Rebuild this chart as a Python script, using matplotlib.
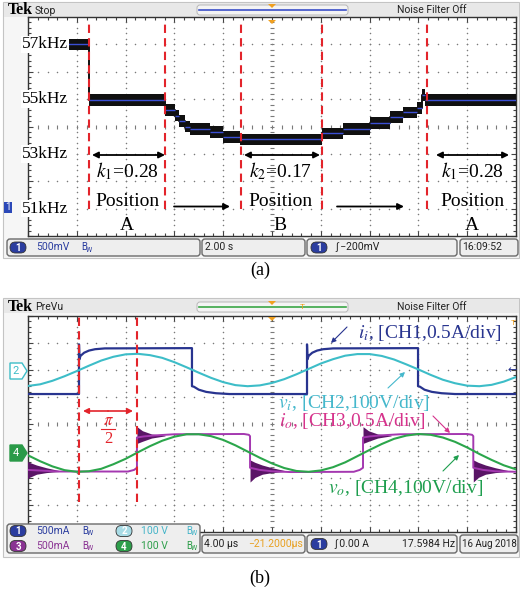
import numpy as np
import matplotlib
matplotlib.use('Agg')
import matplotlib.pyplot as plt
from matplotlib.patches import FancyBboxPatch, Polygon, Rectangle

W, H = 520, 593
plt.rcParams['mathtext.fontset'] = 'stix'
SERIF = 'Liberation Serif'
SANS = ['Roboto', 'DejaVu Sans']

# (a) switching frequency, 2 s/div, 1 kHz/div
a_time = [0.0, 2.48, 5.61, 6.02, 6.20, 6.45, 6.65, 7.45, 7.98, 8.70, 12.05,
          12.91, 14.02, 14.84, 15.37, 15.94, 16.15, 16.27, 20.0]
a_freq = [57.0, 54.97, 54.60, 54.40, 54.20, 54.00, 53.90, 53.80, 53.62, 53.53,
          53.75, 53.90, 54.13, 54.34, 54.52, 54.67, 55.15, 54.97, 54.97]
a_marks = [2.50, 5.61, 8.73, 12.05, 16.35]
a_ylabels = [(57, '57kHz'), (55, '55kHz'), (53, '53kHz'), (51, '51kHz')]

# (b) waveforms, 4 us/div, values in divisions from screen centre
b_t = list(range(41))
v_i = [1.41, 1.47, 1.60, 1.77, 1.96, 2.16, 2.35, 2.49, 2.58, 2.60, 2.55, 2.45,
       2.29, 2.10, 1.90, 1.71, 1.55, 1.44, 1.40, 1.43, 1.52, 1.66, 1.84, 2.04,
       2.24, 2.40, 2.53, 2.59, 2.59, 2.52, 2.39, 2.21, 2.02, 1.82, 1.64, 1.51,
       1.42, 1.40, 1.45, 1.57, 1.74]
v_o = [-1.16, -1.38, -1.57, -1.71, -1.77, -1.75, -1.66, -1.49, -1.29, -1.05,
       -0.82, -0.62, -0.47, -0.38, -0.38, -0.45, -0.59, -0.79, -1.02, -1.25,
       -1.46, -1.63, -1.74, -1.77, -1.72, -1.60, -1.42, -1.19, -0.96, -0.74,
       -0.55, -0.43, -0.37, -0.40, -0.50, -0.66, -0.87, -1.11, -1.33, -1.53,
       -1.68]
ii_t = [0, 4.18, 4.18, 4.22, 4.3, 4.6, 5.0, 5.5, 6.3, 13.44, 13.44, 13.6, 14.0,
        14.6, 15.4, 16.5, 22.87, 22.87, 22.91, 23.0, 23.3, 23.7, 24.2, 25.0,
        31.97, 31.97, 32.13, 32.5, 33.1, 33.9, 35.0, 40]
ii_v = [1.11, 1.11, 2.95, 2.40, 2.52, 2.64, 2.72, 2.77, 2.80, 2.81, 1.40, 1.38,
        1.27, 1.19, 1.14, 1.11, 1.11, 2.95, 2.40, 2.52, 2.64, 2.72, 2.77, 2.80,
        2.81, 1.40, 1.38, 1.27, 1.19, 1.14, 1.11, 1.11]
io_t = [0, 2.5, 8.2, 8.7, 8.93, 8.93, 9.5, 10.5, 12.0, 17.7, 18.1, 18.2, 18.2,
        19.0, 20.0, 21.5, 26.7, 27.2, 27.46, 27.46, 28.0, 29.0, 30.5, 36.0,
        36.4, 36.5, 36.5, 37.3, 38.3, 40]
io_v = [-1.70, -1.76, -1.76, -1.70, -1.62, -0.50, -0.46, -0.42, -0.38, -0.37,
        -0.40, -0.45, -1.62, -1.70, -1.75, -1.78, -1.77, -1.70, -1.62, -0.50,
        -0.46, -0.42, -0.38, -0.37, -0.40, -0.45, -1.62, -1.70, -1.75, -1.77]
io_rise = [8.93, 27.46]
io_fall = [-0.3, 18.2, 36.5]
ring_rise_dt = [0, 0.45, 1.2, 2.3]
ring_rise_hi = [-0.10, -0.25, -0.37, -0.42]
ring_rise_lo = [-0.72, -0.64, -0.52, -0.44]
ring_fall_dt = [0, 0.4, 1.0, 1.8, 2.8]
ring_fall_hi = [-1.33, -1.42, -1.52, -1.62, -1.72]
ring_fall_lo = [-2.15, -1.98, -1.86, -1.80, -1.76]
b_marks = [4.18, 8.93]

C_II, C_VI, C_IO, C_VO = '#28348f', '#3dbdc8', '#a438b0', '#2ba64b'
C_RING = '#5a1566'
RED = '#e3242b'
GRID = '#7a7a7a'


def fr(x0, y0, x1, y1):
    return [x0 / W, 1 - y1 / H, (x1 - x0) / W, (y1 - y0) / H]


def scope_grid(ax):
    x0, x1 = ax.get_xlim()
    y0, y1 = ax.get_ylim()
    dx, dy = (x1 - x0) / 10, (y1 - y0) / 8
    ax.set_xticks(np.linspace(x0, x1, 11))
    ax.set_xticks(np.linspace(x0, x1, 51), minor=True)
    ax.set_yticks(np.linspace(y0, y1, 9))
    ax.set_yticks(np.linspace(y0, y1, 41), minor=True)
    ax.tick_params(which='both', direction='in', top=True, right=True,
                   labelbottom=False, labelleft=False, color='#444', width=0.8)
    ax.tick_params(which='major', length=3.5)
    ax.tick_params(which='minor', length=2.2)
    for s in ax.spines.values():
        s.set_color('#333')
        s.set_linewidth(1.0)
    ys = y0 + np.arange(1, 40) * dy / 5
    for i in range(1, 10):
        xs = np.full_like(ys, x0 + i * dx)
        if i == 5:
            ax.plot(xs, ys, ls='none', marker='_', ms=3, mew=0.8, color=GRID, zorder=1)
        else:
            ax.plot(xs, ys, ls='none', marker='o', ms=1.1, mew=0, color=GRID, zorder=1)
    xs = x0 + np.arange(1, 50) * dx / 5
    for j in range(1, 8):
        yy = np.full_like(xs, y0 + j * dy)
        if j == 4:
            ax.plot(xs, yy, ls='none', marker='|', ms=3, mew=0.8, color=GRID, zorder=1)
        else:
            ax.plot(xs, yy, ls='none', marker='o', ms=1.1, mew=0, color=GRID, zorder=1)


fig = plt.figure(figsize=(W / 100, H / 100), dpi=100)
bg = fig.add_axes([0, 0, 1, 1], zorder=0)
ov = fig.add_axes([0, 0, 1, 1], zorder=10)
for a in (bg, ov):
    a.set_xlim(0, W)
    a.set_ylim(H, 0)
    a.axis('off')
ov.patch.set_alpha(0)

# panel backgrounds
for top, bot in ((2, 258), (298, 557)):
    bg.add_patch(Rectangle((3, top), 516, bot - top, fc='#f6f6f6', ec='#c4c4c4', lw=0.8))
    bg.add_patch(Rectangle((3.5, top + 0.5), 515, 14, fc='#e8e8e8', ec='none'))

# ---------------- (a)
ax = fig.add_axes(fr(28, 17, 516, 236), zorder=2)
ax.set_xlim(0, 20)
ax.set_ylim(50, 58)
scope_grid(ax)
f = np.array(a_freq)
ax.fill_between(a_time, f - 0.21, f + 0.21, step='post', color='#101010', lw=0, zorder=3)
ax.step(a_time, a_freq, where='post', color='#101010', lw=1.4, zorder=3)
ax.hlines(a_freq[:-1], a_time[:-1], a_time[1:], color='#3b4fd4', lw=1.0, zorder=4)
ax.vlines(a_marks, 51.0, 57.9, color=RED, lw=1.5, linestyles=(0, (4, 2.5)), zorder=5)
for v, lab in a_ylabels:
    ax.text(-0.25, v, lab, ha='left', va='center', fontsize=12.5, family=SERIF,
            clip_on=False, zorder=6,
            bbox=dict(fc='white', ec='none', pad=0.5))

# ---------------- (b)
bx = fig.add_axes(fr(28, 316, 516, 532), zorder=2)
bx.set_xlim(0, 40)
bx.set_ylim(-4, 4)
scope_grid(bx)
bx.plot(ii_t, ii_v, color=C_II, lw=1.6, zorder=3)
bx.plot(b_t, v_i, color=C_VI, lw=1.5, zorder=4)
for t0 in io_rise:
    bx.fill_between(np.array(ring_rise_dt) + t0, ring_rise_hi, ring_rise_lo,
                    color=C_RING, lw=0, zorder=5)
for t0 in io_fall:
    bx.fill_between(np.array(ring_fall_dt) + t0, ring_fall_hi, ring_fall_lo,
                    color=C_RING, lw=0, zorder=5)
bx.plot(io_t, io_v, color=C_IO, lw=1.4, zorder=6)
bx.plot(b_t, v_o, color=C_VO, lw=1.5, zorder=7)
bx.vlines(b_marks, -2.9, 3.95, color=RED, lw=1.5, linestyles=(0, (4, 2.5)), zorder=8)

# ---------------- chrome & annotations (pixel coords)
def box(x0, y0, x1, y1):
    ov.add_patch(FancyBboxPatch((x0, y0), x1 - x0, y1 - y0,
                                boxstyle='round,pad=0,rounding_size=3',
                                fc='#eeeeee', ec='#6a6a6a', lw=1.0))


def badge(xc, yc, num, fc, tc='white'):
    ov.add_patch(FancyBboxPatch((xc - 8, yc - 5.5), 16, 11,
                                boxstyle='round,pad=0,rounding_size=5.5',
                                fc=fc, ec='#333', lw=0.6))
    ov.text(xc, yc + 0.5, num, ha='center', va='center', color=tc,
            fontsize=7, family=SANS, weight='bold')


def bw(x, y, c):
    ov.text(x, y, 'B', ha='left', va='center', color=c, fontsize=7, family=SANS)
    ov.text(x + 4.5, y + 2.5, 'W', ha='left', va='center', color=c, fontsize=5, family=SANS)


def stxt(x, y, s, c='#222', size=7.5, ha='left'):
    ov.text(x, y, s, ha=ha, va='center', color=c, fontsize=size, family=SANS)


def header(y, name, lc):
    ov.text(8, y, 'Tek', ha='left', va='center', fontsize=11.5, family=SERIF, weight='bold')
    stxt(35, y + 0.5, name, size=7.5)
    ov.add_patch(FancyBboxPatch((197, y - 5), 151, 10, boxstyle='round,pad=0,rounding_size=3',
                                fc='#f4f4f4', ec='#b8b8b8', lw=0.7))
    ov.plot([199, 346], [y, y], color=lc, lw=1.2)
    ov.add_patch(Polygon([(268, y - 6), (276, y - 6), (272, y - 2)], fc='#f0a020', ec='none'))
    ov.add_patch(Polygon([(268, y + 10), (276, y + 10), (272, y + 14)], fc='#f0a020', ec='none'))
    stxt(432, y, 'Noise Filter Off', size=7.5, ha='center')


header(10, 'Stop', '#3a4fc8')
header(307, 'PreVu', '#3aa646')
ov.text(302, 307, 'T', ha='center', va='center', color='#f0a020', fontsize=6, family=SANS)
ov.text(513, 323, 'T', ha='center', va='center', color='#f0a020', fontsize=6, family=SANS)
ov.text(512, 370, '\u2190', ha='center', va='center', color=C_II, fontsize=8)

# (a) channel marker & status bar
ov.add_patch(Rectangle((4, 202), 8, 11, fc='#2b48b8', ec='none'))
ov.text(8, 207.5, '1', ha='center', va='center', color='white', fontsize=7, family=SANS)
box(7, 239, 200, 256)
badge(18, 247.5, '1', '#2b3d9f')
stxt(36, 247.5, '500mV', '#2b3d9f')
bw(81, 247.5, '#2b3d9f')
box(202, 239, 305, 256)
stxt(205, 247.5, '2.00 s')
box(307, 239, 457, 256)
badge(319, 247.5, '1', '#2b3d9f')
stxt(335, 247.5, '\u222b \u2212200mV')
box(460, 239, 518, 256)
stxt(462, 247.5, '16:09:52')

# (a) annotations
for xa, xb in ((92, 165), (244, 320), (436, 509)):
    ov.annotate('', xy=(xb, 155), xytext=(xa, 155),
                arrowprops=dict(arrowstyle='<|-|>', color='black', lw=1.3,
                                mutation_scale=9, shrinkA=0, shrinkB=0))
for xa, xb in ((174, 230), (337, 404)):
    ov.annotate('', xy=(xb, 206.5), xytext=(xa, 206.5),
                arrowprops=dict(arrowstyle='-|>', color='black', lw=1.3,
                                mutation_scale=9, shrinkA=0, shrinkB=0))
for xc, klab, pos in ((127, r'$k_{\mathit{1}}$=0.28', 'A'),
                      (280, r'$k_{\mathit{2}}$=0.17', 'B'),
                      (472, r'$k_{\mathit{1}}$=0.28', 'A')):
    ov.text(xc, 171, klab, ha='center', va='center', fontsize=14, family=SERIF)
    ov.text(xc, 201, 'Position', ha='center', va='center', fontsize=14, family=SERIF)
    ov.text(xc, 225, pos, ha='center', va='center', fontsize=14, family=SERIF)
ov.text(260, 270, '(a)', ha='center', va='center', fontsize=13, family=SERIF)

# (b) channel markers
ov.add_patch(Polygon([(10, 363), (22, 363), (27, 371), (22, 379), (10, 379)],
                     fc='white', ec=C_VI, lw=1.0))
ov.text(16, 371.5, '2', ha='center', va='center', color=C_VI, fontsize=8, family=SANS)
ov.add_patch(Polygon([(10, 445), (22, 445), (27, 453), (22, 461), (10, 461)],
                     fc='#2a9a48', ec='#2a9a48', lw=1.0))
ov.text(16, 453.5, '4', ha='center', va='center', color='white', fontsize=8, family=SANS)

# (b) status bar
box(7, 524, 200, 553)
badge(18, 531, '1', '#2b3d9f')
stxt(36, 531, '500mA', '#2b3d9f')
bw(82, 531, '#2b3d9f')
badge(124, 531, '2', '#a9dce6')
stxt(141, 531, '100 V', '#45b4c8')
bw(186, 531, '#45b4c8')
badge(18, 546, '3', '#8a3393')
stxt(36, 546, '500mA', '#8a3393')
bw(82, 546, '#8a3393')
badge(124, 546, '4', '#2d9e4a')
stxt(141, 546, '100 V', '#2d9e4a')
bw(186, 546, '#2d9e4a')
box(202, 535, 305, 553)
stxt(204, 544, '4.00 \u00b5s')
stxt(303, 544, '\u221221.2000\u00b5s', '#e8a020', ha='right')
box(307, 535, 457, 553)
badge(319, 544, '1', '#2b3d9f')
stxt(334, 544, '\u222b 0.00 A')
stxt(455, 544, '17.5984 Hz', ha='right')
box(460, 535, 518, 553)
stxt(489, 544, '16 Aug 2018', size=7, ha='center')

# (b) annotations
ov.annotate('', xy=(108, 411), xytext=(83, 411),
            arrowprops=dict(arrowstyle='<|-', color=RED, lw=1.2, mutation_scale=8, shrinkA=0, shrinkB=0))
ov.annotate('', xy=(133, 411), xytext=(108, 411),
            arrowprops=dict(arrowstyle='-|>', color=RED, lw=1.2, mutation_scale=8, shrinkA=0, shrinkB=0))
ov.text(108, 420, r'$\pi$', ha='center', va='center', color=RED, fontsize=12)
ov.plot([101, 115], [429, 429], color=RED, lw=0.8)
ov.text(108, 439, '2', ha='center', va='center', color=RED, fontsize=12, family=SERIF)

lab_kw = dict(ha='center', va='center', fontsize=14, family=SERIF)
ov.text(430, 333, r'$i_i$, [CH1,0.5A/div]', color=C_II, **lab_kw)
ov.text(354, 403, r'$v_i$, [CH2,100V/div]', color='#45b8cc', **lab_kw)
ov.text(352, 421, r'$i_o$, [CH3,0.5A/div]', color='#d6338c', **lab_kw)
ov.text(406, 488, r'$v_o$, [CH4,100V/div]', color='#1e9e4e', **lab_kw)
arr = dict(arrowstyle='-|>', lw=0.8, mutation_scale=7, shrinkA=0, shrinkB=0)
ov.annotate('', xy=(331, 343), xytext=(347, 327), arrowprops=dict(color=C_II, **arr))
ov.annotate('', xy=(405, 372), xytext=(388, 388), arrowprops=dict(color='#45b8cc', **arr))
ov.annotate('', xy=(450, 433), xytext=(433, 416), arrowprops=dict(color='#d6338c', **arr))
ov.annotate('', xy=(459, 455), xytext=(443, 471), arrowprops=dict(color='#1e9e4e', **arr))
ov.text(260, 578, '(b)', ha='center', va='center', fontsize=13, family=SERIF)

fig.savefig('out.png', dpi=100)
